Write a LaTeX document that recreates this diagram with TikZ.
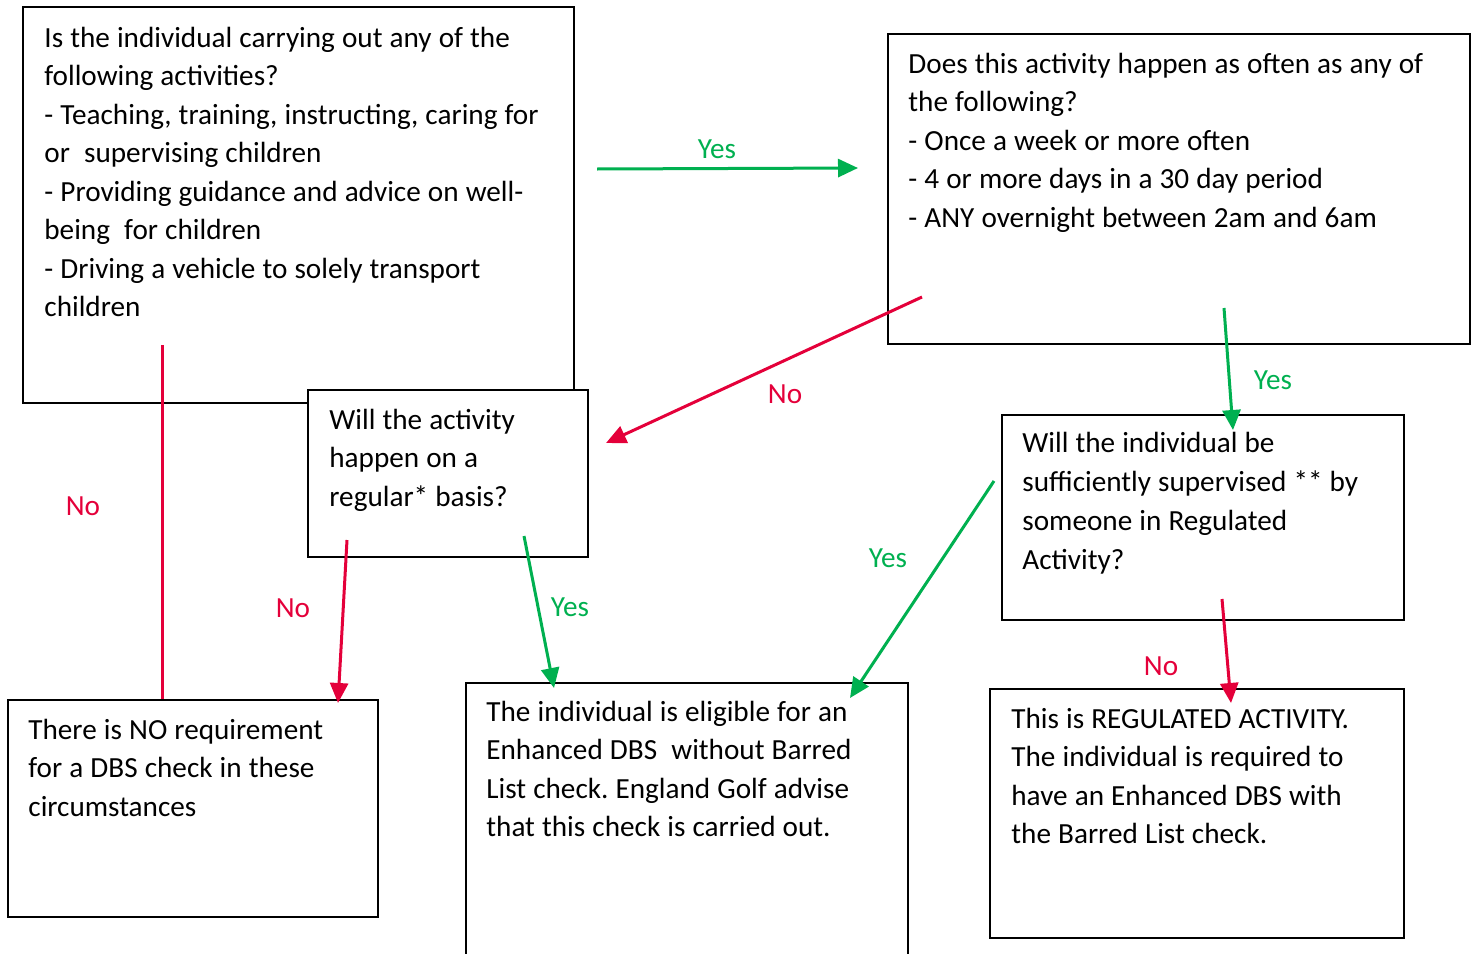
\documentclass[tikz,border=0pt]{standalone}
\usepackage{fontspec}
\setmainfont{Carlito}
\usetikzlibrary{arrows.meta}
\definecolor{yesgreen}{RGB}{0,176,80}
\definecolor{nored}{RGB}{228,0,58}
\newcommand{\boxfont}{\fontsize{14.6}{19.25}\selectfont\frenchspacing}
\newcommand{\wideboxfont}{\fontsize{14.6}{19.6}\selectfont\frenchspacing}
\newcommand{\tsp}{\spaceskip=3.55pt\relax\xspaceskip=3.55pt\relax}
\begin{document}
\begin{tikzpicture}[x=0.5pt,y=-0.5pt,
 box/.style={draw=black,line width=1pt,fill=white,rectangle,anchor=north west,inner sep=0pt,outer sep=0pt},
 txt/.style={anchor=base west,inner sep=0pt,text width=320pt,font=\boxfont},
 lbl/.style={inner sep=0pt,font=\boxfont},
 yeslbl/.style={lbl,text=yesgreen},
 nolbl/.style={lbl,text=nored},
 yesarrow/.style={draw=yesgreen,line width=1.5pt,-{Triangle[length=10pt,width=9pt]}},
 noarrow/.style={draw=nored,line width=1.5pt,-{Triangle[length=10pt,width=9pt]}},
 noline/.style={draw=nored,line width=1.5pt}]
\useasboundingbox (0,0) rectangle (1477,953);
\clip (0,0) rectangle (1477,953);
% boxes
\node[box,minimum width=275.5pt,minimum height=198pt] (b1) at (23,7) {};
\node[box,minimum width=291pt,minimum height=155pt] (b2) at (888,34) {};
\node[box,minimum width=140pt,minimum height=83.5pt] (b3) at (308,390) {};
\node[box,minimum width=201pt,minimum height=102.5pt] (b4) at (1002,415) {};
\node[box,minimum width=185pt,minimum height=108.5pt] (b5) at (8,700) {};
\node[box,minimum width=221pt,minimum height=150pt] (b6) at (466,683) {};
\node[box,minimum width=207pt,minimum height=124.5pt] (b7) at (990,689) {};
% texts
\node[txt] (t1) at (44,47) {\tsp Is the individual carrying out any of the\\following activities?\\- Teaching, training, instructing, caring for\\or\ \ supervising children\\- Providing guidance and advice on well-\\being\ \ for children\\- Driving a vehicle to solely transport\\children};
\node[txt] (t2) at (908,73) {\tsp Does this activity happen as often as any of\\the following?\\- Once a week or more often\\- 4 or more days in a 30 day period\\- ANY overnight between 2am and 6am};
\node[txt] (t3) at (329,429) {\tsp Will the activity\\happen on a\\regular* basis?};
\node[txt,font=\wideboxfont] (t4) at (1022,452) {\tsp Will the individual be\\sufficiently supervised ** by\\someone in Regulated\\Activity?};
\node[txt] (t5) at (28,739) {\tsp There is NO requirement\\for a DBS check in these\\circumstances};
\node[txt] (t6) at (486,721) {\tsp The individual is eligible for an\\Enhanced DBS\ \ without Barred\\List check. England Golf advise\\that this check is carried out.};
\node[txt] (t7) at (1011,728) {\tsp This is REGULATED ACTIVITY.\\The individual is required to\\have an Enhanced DBS with\\the Barred List check.};
% connector end points
\coordinate (a1s) at (597,169); \coordinate (a1e) at (858,168);
\coordinate (a2s) at (922,297); \coordinate (a2e) at (606,443);
\coordinate (a3s) at (1224,308); \coordinate (a3e) at (1233,430);
\coordinate (a4s) at (162,345); \coordinate (a4e) at (162,699);
\coordinate (a5s) at (347,540); \coordinate (a5e) at (338,703);
\coordinate (a6s) at (524,536); \coordinate (a6e) at (554,688);
\coordinate (a7s) at (994,481); \coordinate (a7e) at (850,698);
\coordinate (a8s) at (1222,599); \coordinate (a8e) at (1231,703);
% connectors
\draw[yesarrow] (a1s) -- (a1e);
\draw[noarrow] (a2s) -- (a2e);
\draw[yesarrow] (a3s) -- (a3e);
\draw[noline] (a4s) -- (a4e);
\draw[noarrow] (a5s) -- (a5e);
\draw[yesarrow] (a6s) -- (a6e);
\draw[yesarrow] (a7s) -- (a7e);
\draw[noarrow] (a8s) -- (a8e);
% labels
\node[yeslbl] (l1) at (717,149) {Yes};
\node[nolbl] (l2) at (785,394) {No};
\node[yeslbl] (l3) at (1273,380) {Yes};
\node[nolbl] (l4) at (83,506) {No};
\node[nolbl] (l5) at (293,608) {No};
\node[yeslbl] (l6) at (570,607) {Yes};
\node[yeslbl] (l7) at (888,558) {Yes};
\node[nolbl] (l8) at (1161,666) {No};
\end{tikzpicture}
\end{document}
